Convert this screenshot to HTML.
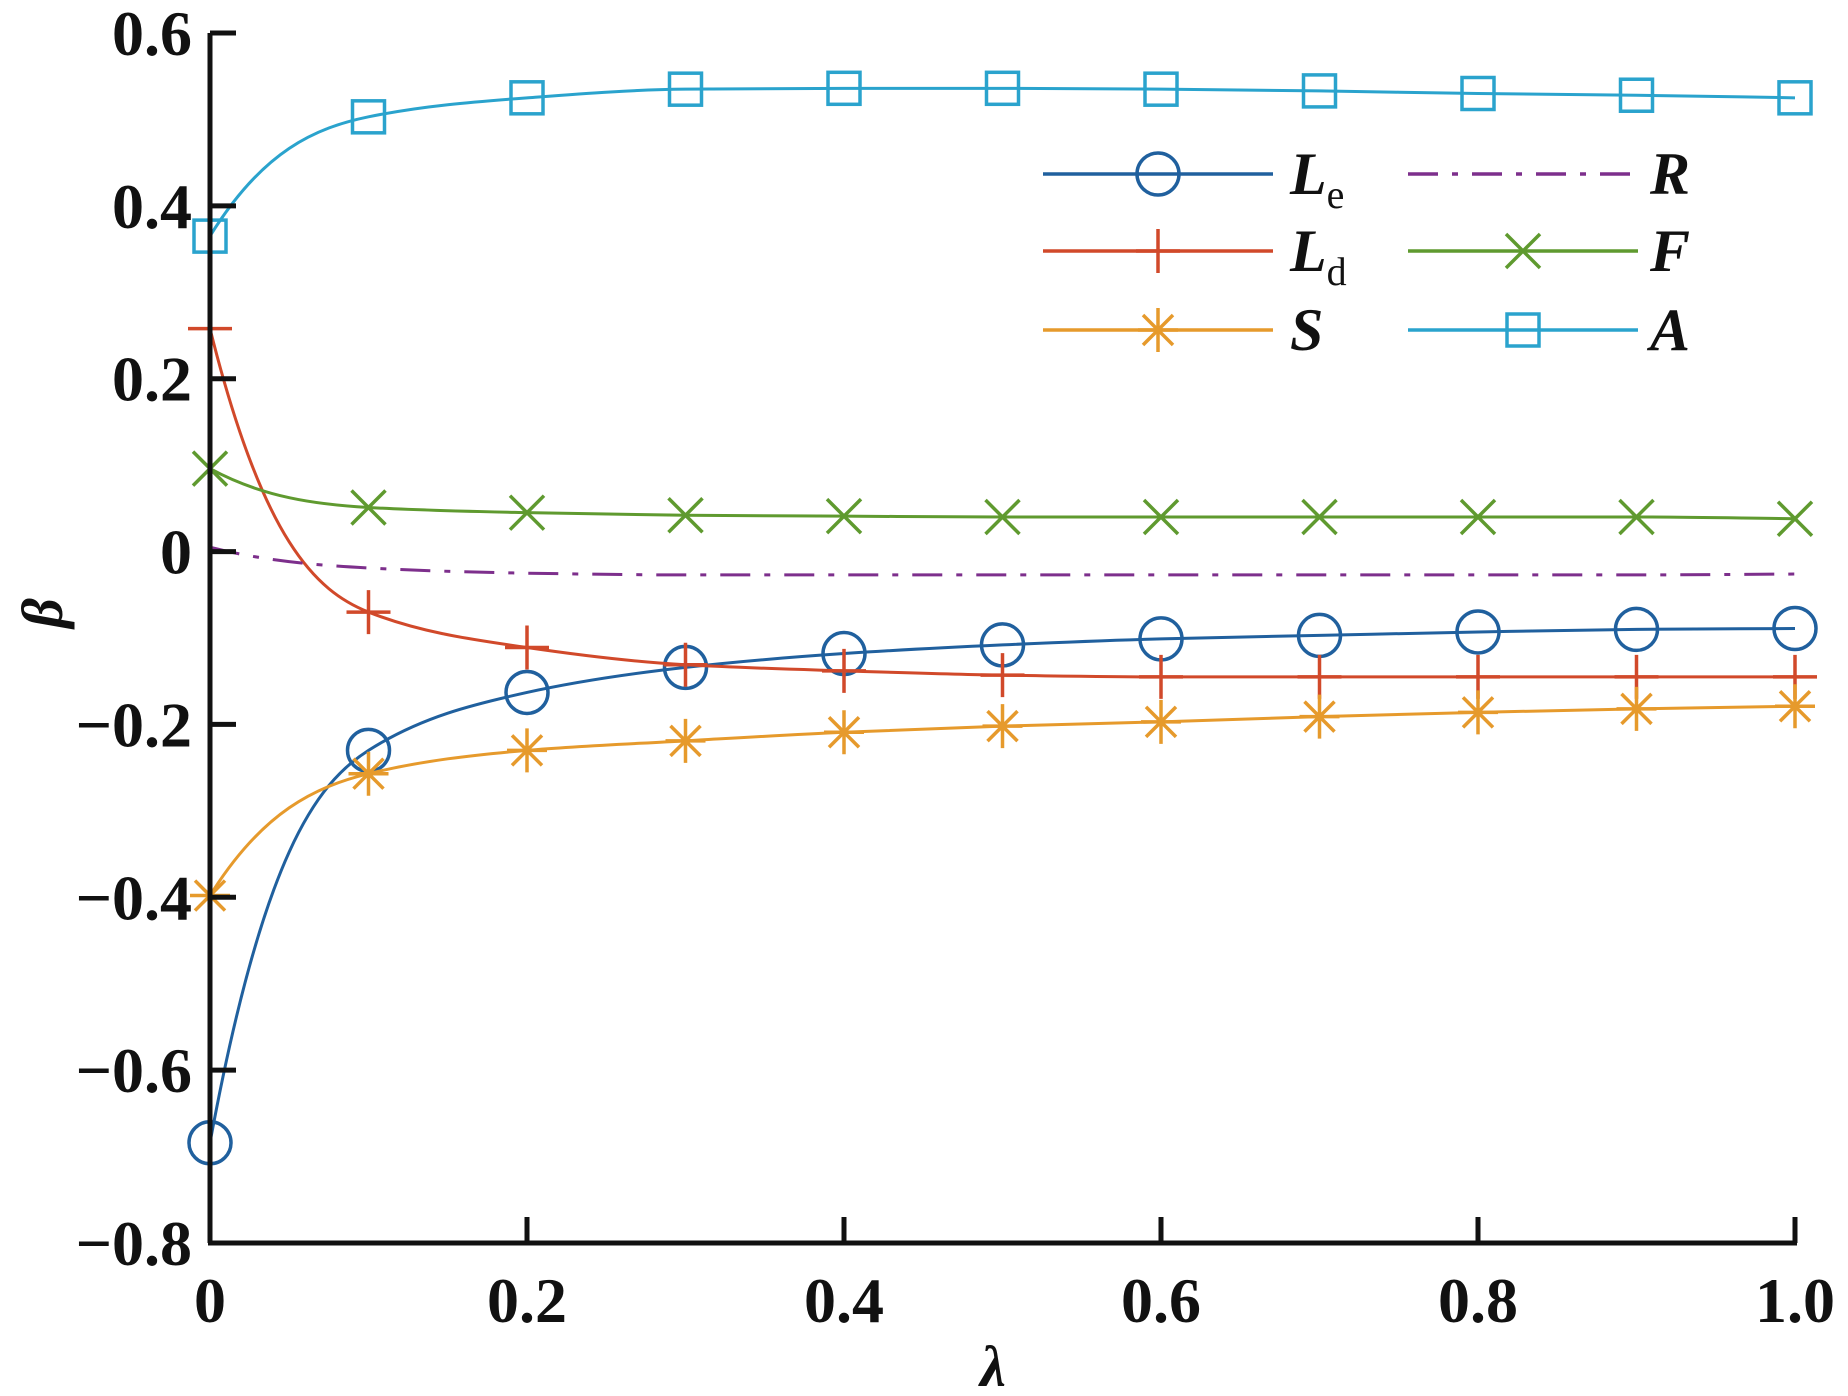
<!DOCTYPE html>
<html><head><meta charset="utf-8"><style>
html,body{margin:0;padding:0;background:#fff}
svg{display:block}
text{font-family:"Liberation Serif",serif;font-weight:bold;fill:#111}
</style></head><body>
<svg id="chart" width="1848" height="1396" viewBox="0 0 1848 1396" xmlns="http://www.w3.org/2000/svg">
<g id="series"></g>
<g id="axes"></g>
<g id="legend"></g>
</svg>
<script>
const lambdaVals=[0,0.1,0.2,0.3,0.4,0.5,0.6,0.7,0.8,0.9,1.0];
const LeVals=[-0.684,-0.230,-0.163,-0.134,-0.118,-0.108,-0.101,-0.097,-0.093,-0.090,-0.089];
const LdVals=[0.258,-0.070,-0.111,-0.131,-0.138,-0.143,-0.145,-0.145,-0.145,-0.145,-0.145];
const SVals=[-0.398,-0.257,-0.230,-0.219,-0.209,-0.202,-0.197,-0.191,-0.186,-0.182,-0.179];
const RVals=[0.005,-0.019,-0.025,-0.027,-0.027,-0.027,-0.027,-0.027,-0.027,-0.027,-0.026];
const FVals=[0.096,0.051,0.045,0.042,0.041,0.040,0.040,0.040,0.040,0.040,0.038];
const AVals=[0.365,0.503,0.525,0.535,0.536,0.536,0.535,0.533,0.530,0.528,0.525];
const xTicks=[0,0.2,0.4,0.6,0.8,1.0];
const xTickLabels=["0","0.2","0.4","0.6","0.8","1.0"];
const yTicks=[0.6,0.4,0.2,0,-0.2,-0.4,-0.6,-0.8];
const yTickLabels=["0.6","0.4","0.2","0","\u22120.2","\u22120.4","\u22120.6","\u22120.8"];

const NS="http://www.w3.org/2000/svg";
const X0=210,X1=1795,YT=33,YB=1243,ymin=-0.8,ymax=0.6;
function xs(v){return X0+(v-0)/(1-0)*(X1-X0);}
function ys(v){return YB-(v-ymin)/(ymax-ymin)*(YB-YT);}
function mk(tag,attrs,parent){const e=document.createElementNS(NS,tag);for(const k in attrs)e.setAttribute(k,attrs[k]);parent.appendChild(e);return e;}

function smoothPath(xv,yv){
  const n=xv.length,px=xv.map(xs),py=yv.map(ys);
  const d=[],m=[];
  for(let i=0;i<n-1;i++)d.push((py[i+1]-py[i])/(px[i+1]-px[i]));
  m[0]=d[0];m[n-1]=d[n-2];
  for(let i=1;i<n-1;i++){m[i]=(d[i-1]*d[i]<=0)?0:(2/(1/d[i-1]+1/d[i]));}
  m[0]=2.6*d[0]-1.6*m[1];
  if(Math.sign(m[0])!==Math.sign(d[0]))m[0]=d[0];
  let s="M"+px[0]+","+py[0];
  for(let i=0;i<n-1;i++){const h=px[i+1]-px[i];
    s+=" C"+(px[i]+h/3)+","+(py[i]+m[i]*h/3)+" "+(px[i+1]-h/3)+","+(py[i+1]-m[i+1]*h/3)+" "+px[i+1]+","+py[i+1];}
  return s;
}
function marker(type,cx,cy,color,parent){
  const st={stroke:color,"stroke-width":3.5,fill:"none"};
  let g=mk("g",{},parent);
  if(type==="circle")mk("circle",Object.assign({cx:cx,cy:cy,r:21},st),g);
  else if(type==="square")mk("rect",Object.assign({x:cx-16,y:cy-16,width:32,height:32},st),g);
  else if(type==="plus"){mk("path",Object.assign({d:`M${cx-22},${cy}H${cx+22}M${cx},${cy-22}V${cy+22}`},st),g);}
  else if(type==="x"){mk("path",Object.assign({d:`M${cx-17},${cy-17}L${cx+17},${cy+17}M${cx-17},${cy+17}L${cx+17},${cy-17}`},st),g);}
  else if(type==="star"){mk("path",Object.assign({d:`M${cx-20},${cy}H${cx+20}M${cx},${cy-22}V${cy+22}M${cx-15},${cy-15}L${cx+15},${cy+15}M${cx-15},${cy+15}L${cx+15},${cy-15}`},st),g);}
  return g;
}
const seriesList=[
  {name:"L_e",vals:LeVals,color:"#20609e",m:"circle",dash:null},
  {name:"L_d",vals:LdVals,color:"#d1492a",m:"plus",dash:null},
  {name:"S",vals:SVals,color:"#e69a2c",m:"star",dash:null},
  {name:"R",vals:RVals,color:"#7d2f8c",m:null,dash:"30 14 6 14"},
  {name:"F",vals:FVals,color:"#5f9a2f",m:"x",dash:null},
  {name:"A",vals:AVals,color:"#2aa3cd",m:"square",dash:null}
];
const sg=document.getElementById("series");
seriesList.forEach(s=>{
  const g=mk("g",{},sg);
  
  
  const p=mk("path",{d:smoothPath(lambdaVals,s.vals),fill:"none",stroke:s.color,"stroke-width":3},g);
  if(s.dash)p.setAttribute("stroke-dasharray",s.dash);
  
  
  if(s.m){lambdaVals.forEach((x,i)=>{
    const mm=marker(s.m,xs(x),ys(s.vals[i]),s.color,g);
    
    
  });}
});
const ag=document.getElementById("axes");
const yAxis=mk("path",{d:`M${X0},${YT}V${YB}`,stroke:"#111","stroke-width":5,fill:"none"},ag);


const xAxis=mk("path",{d:`M${X0-2},${YB}H${X1+2}`,stroke:"#111","stroke-width":5,fill:"none"},ag);


yTicks.forEach((v,i)=>{
  const t=mk("path",{d:`M${X0},${ys(v)}h26`,stroke:"#111","stroke-width":5},ag);
  
  
  const l=mk("text",{x:192,y:ys(v)+22,"text-anchor":"end","font-size":64},ag);
  l.textContent=yTickLabels[i];
  
  
});
xTicks.forEach((v,i)=>{
  const t=mk("path",{d:`M${xs(v)},${YB}v-26`,stroke:"#111","stroke-width":5},ag);
  
  
  const l=mk("text",{x:xs(v),y:1322,"text-anchor":"middle","font-size":64},ag);
  l.textContent=xTickLabels[i];
  
  
});
const xt=mk("text",{x:993,y:1386,"text-anchor":"middle","font-size":58,"font-style":"italic"},ag);
xt.textContent="λ";


const yt=mk("text",{x:0,y:0,"text-anchor":"middle","font-size":58,"font-style":"italic",transform:"translate(62,613) rotate(-90)"},ag);
yt.textContent="β";


const lg=document.getElementById("legend");
const legendRows=[174,251,330];
seriesList.forEach((s,i)=>{
  const col=i<3?0:1,row=i%3;
  const lx=col===0?1043:1408,cy=legendRows[row];
  const g=mk("g",{},lg);
  
  
  const p=mk("path",{d:`M${lx},${cy}h230`,stroke:s.color,"stroke-width":3.5,fill:"none"},g);
  if(s.dash)p.setAttribute("stroke-dasharray","30 14 6 14");
  if(s.m)marker(s.m,lx+115,cy,s.color,g);
  const t=mk("text",{x:col===0?1290:1650,y:cy+20,"font-size":60,"font-style":"italic"},g);
  if(s.name.indexOf("_")>0){
    const parts=s.name.split("_");
    t.textContent=parts[0];
    const sub=mk("tspan",{"font-style":"normal","font-weight":"normal","font-size":40,dy:14},t);
    sub.textContent=parts[1];
  } else t.textContent=s.name;
});
</script>
</body></html>
